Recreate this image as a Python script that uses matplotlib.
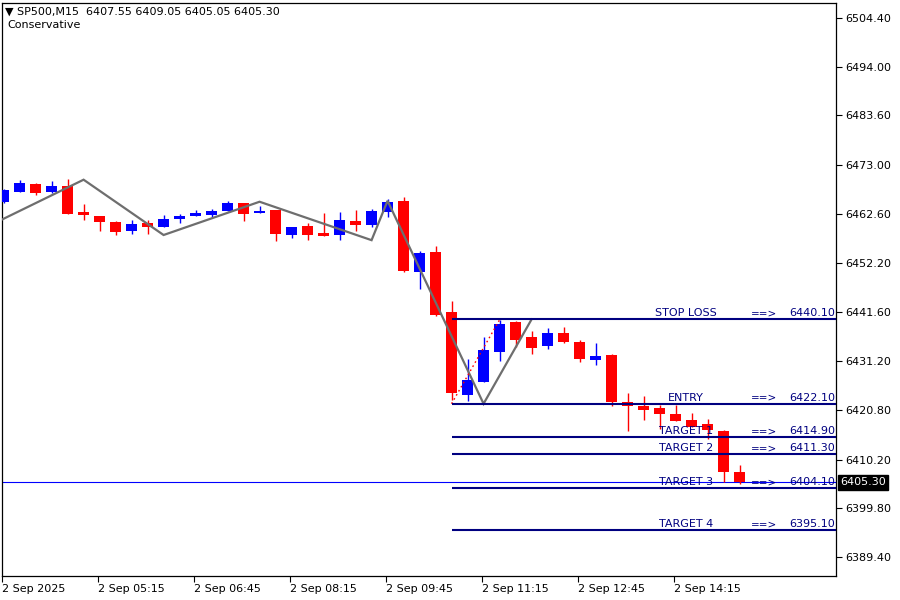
import matplotlib
matplotlib.use("Agg")
import matplotlib.pyplot as plt
import matplotlib.transforms as mtransforms
import numpy as np

plt.rcParams['font.family'] = ['DejaVu Sans']

# ---------------- data ----------------
opens = [6465.1, 6467.3, 6469.0, 6467.3, 6468.6, 6463.0, 6462.1, 6460.9, 6459.0, 6460.7,
         6459.9, 6461.6, 6462.2, 6462.4, 6463.3, 6464.9, 6462.8, 6463.4, 6458.2, 6460.0,
         6458.5, 6458.2, 6461.1, 6460.3, 6463.1, 6465.4, 6450.3, 6454.5, 6441.7, 6424.0,
         6426.8, 6433.2, 6439.5, 6436.3, 6434.5, 6437.2, 6435.3, 6431.5, 6432.6, 6422.5,
         6421.6, 6421.2, 6419.9, 6418.6, 6417.8, 6416.3, 6407.55]
highs = [6468.0, 6469.8, 6469.1, 6469.6, 6470.0, 6464.7, 6462.2, 6461.1, 6461.3, 6461.3,
         6462.4, 6462.6, 6463.4, 6463.6, 6465.3, 6465.0, 6464.3, 6463.5, 6459.9, 6460.7,
         6462.8, 6463.0, 6463.5, 6463.7, 6465.8, 6466.2, 6454.7, 6455.8, 6444.0, 6431.6,
         6436.3, 6440.0, 6439.8, 6437.6, 6438.3, 6438.5, 6435.7, 6435.1, 6432.7, 6424.4,
         6423.7, 6421.8, 6421.8, 6420.1, 6418.9, 6416.4, 6409.05]
lows = [6464.9, 6467.3, 6466.7, 6467.1, 6462.6, 6461.3, 6459.0, 6458.0, 6458.4, 6458.4,
        6459.8, 6460.7, 6462.1, 6462.0, 6463.2, 6461.1, 6462.7, 6456.9, 6457.5, 6457.0,
        6457.9, 6457.0, 6459.0, 6459.9, 6462.0, 6450.2, 6446.6, 6440.9, 6422.9, 6422.7,
        6426.7, 6431.3, 6434.3, 6432.8, 6433.8, 6435.1, 6431.1, 6430.4, 6421.7, 6416.3,
        6418.7, 6416.8, 6418.4, 6417.1, 6414.6, 6405.4, 6405.05]
closes = [6467.7, 6469.1, 6467.1, 6468.6, 6462.6, 6462.4, 6460.9, 6458.8, 6460.4, 6459.9,
          6461.5, 6462.2, 6462.7, 6463.2, 6464.9, 6462.6, 6463.2, 6458.4, 6459.8, 6458.2,
          6457.9, 6461.3, 6460.3, 6463.3, 6465.1, 6450.4, 6454.3, 6441.0, 6424.3, 6427.2,
          6433.6, 6439.1, 6435.8, 6434.1, 6437.2, 6435.3, 6431.7, 6432.3, 6422.5, 6421.7,
          6420.8, 6420.0, 6418.5, 6417.2, 6416.6, 6407.6, 6405.30]

zigzag_idx = [-0.1, 5, 10, 16, 23, 24, 30, 33]
zigzag_price = [6461.4, 6469.9, 6458.1, 6465.2, 6457.0, 6465.4, 6422.1, 6440.1]

level_names = ["STOP LOSS", "ENTRY", "TARGET 1", "TARGET 2", "TARGET 3", "TARGET 4"]
level_values = [6440.10, 6422.10, 6414.90, 6411.30, 6404.10, 6395.10]
level_start_bar = 28

trend_idx = [28, 31]
trend_price = [6422.1, 6440.0]

current_price = 6405.30

ytick_values = [6504.40, 6494.00, 6483.60, 6473.00, 6462.60, 6452.20, 6441.60,
                6431.20, 6420.80, 6410.20, 6399.80, 6389.40]
xtick_bars = [0, 6, 12, 18, 24, 30, 36, 42]
xtick_labels = ["2 Sep 2025", "2 Sep 05:15", "2 Sep 06:45", "2 Sep 08:15",
                "2 Sep 09:45", "2 Sep 11:15", "2 Sep 12:45", "2 Sep 14:15"]

header = "\u25bc SP500,M15  6407.55 6409.05 6405.05 6405.30"
subheader = "Conservative"

# ---------------- figure ----------------
fig = plt.figure(figsize=(9, 6), dpi=100)
ax = fig.add_axes([2/900, 24/600, 834/900, 573/600])

XMIN, XMAX = -0.094, 52.03
YMIN, YMAX = 6385.35, 6507.6
ax.set_xlim(XMIN, XMAX)
ax.set_ylim(YMIN, YMAX)

idx = np.arange(len(opens))
o = np.array(opens); c = np.array(closes); h = np.array(highs); l = np.array(lows)
cols = np.where(c >= o, '#0000FF', '#FF0000')

ax.vlines(idx, l, h, colors=cols, linewidth=1.0, zorder=3)
body_h = np.maximum(np.abs(c - o), 0.2)
ax.bar(idx, body_h, bottom=np.minimum(o, c), width=0.68, color=cols,
       linewidth=0, zorder=4)

# zigzag
ax.plot(zigzag_idx, zigzag_price, color='#6E6E6E', linewidth=1.6, zorder=5,
        solid_joinstyle='miter')

# red dotted trend
ax.plot(trend_idx, trend_price, color='#FF0000', linewidth=1.0,
        linestyle=(0, (1.2, 2.2)), zorder=5)

# current price line
ax.axhline(current_price, color='#0000FF', linewidth=0.8, zorder=2)

# levels
ax.hlines(level_values, level_start_bar, XMAX, colors='#000080', linewidth=1.5, zorder=6)
off = mtransforms.offset_copy(ax.transData, fig=fig, x=0, y=0.8, units='points')
for name, val in zip(level_names, level_values):
    ax.text(42.66, val, name, transform=off, ha='center', va='bottom',
            fontsize=8, color='#000080', zorder=7)
    ax.text(47.53, val, "==>", transform=off, ha='center', va='bottom',
            fontsize=7.5, color='#000080', zorder=7)
    ax.text(51.97, val, f"{val:.2f}", transform=off, ha='right', va='bottom',
            fontsize=8, color='#000080', zorder=7)

# axes styling
ax.yaxis.tick_right()
ax.set_yticks(ytick_values)
ax.set_yticklabels([f"{v:.2f}" for v in ytick_values])
ax.tick_params(axis='y', direction='out', length=4, width=0.8, pad=3,
               labelsize=8, colors='black')
ax.set_xticks([b - 0.1 for b in xtick_bars])
ax.set_xticklabels(xtick_labels)
ax.tick_params(axis='x', direction='out', length=4, width=0.8, pad=2, labelsize=8)
for lab in ax.get_xticklabels():
    lab.set_horizontalalignment('left')
for sp in ax.spines.values():
    sp.set_color('black')
    sp.set_linewidth(0.9)

# current price tag on axis
ax.annotate(f"{current_price:.2f}", xy=(1.0, current_price),
            xycoords=('axes fraction', 'data'), xytext=(3, 0),
            textcoords='offset points', ha='left', va='center', fontsize=8,
            color='white',
            bbox=dict(boxstyle='square,pad=0.2', fc='black', ec='black'),
            annotation_clip=False, zorder=10)

# header
fig.text(5/900, 1 - 12/600, header, fontsize=8, color='black', va='center', ha='left')
fig.text(7/900, 1 - 25/600, subheader, fontsize=8, color='black', va='center', ha='left')

fig.savefig("out.png", dpi=100)
